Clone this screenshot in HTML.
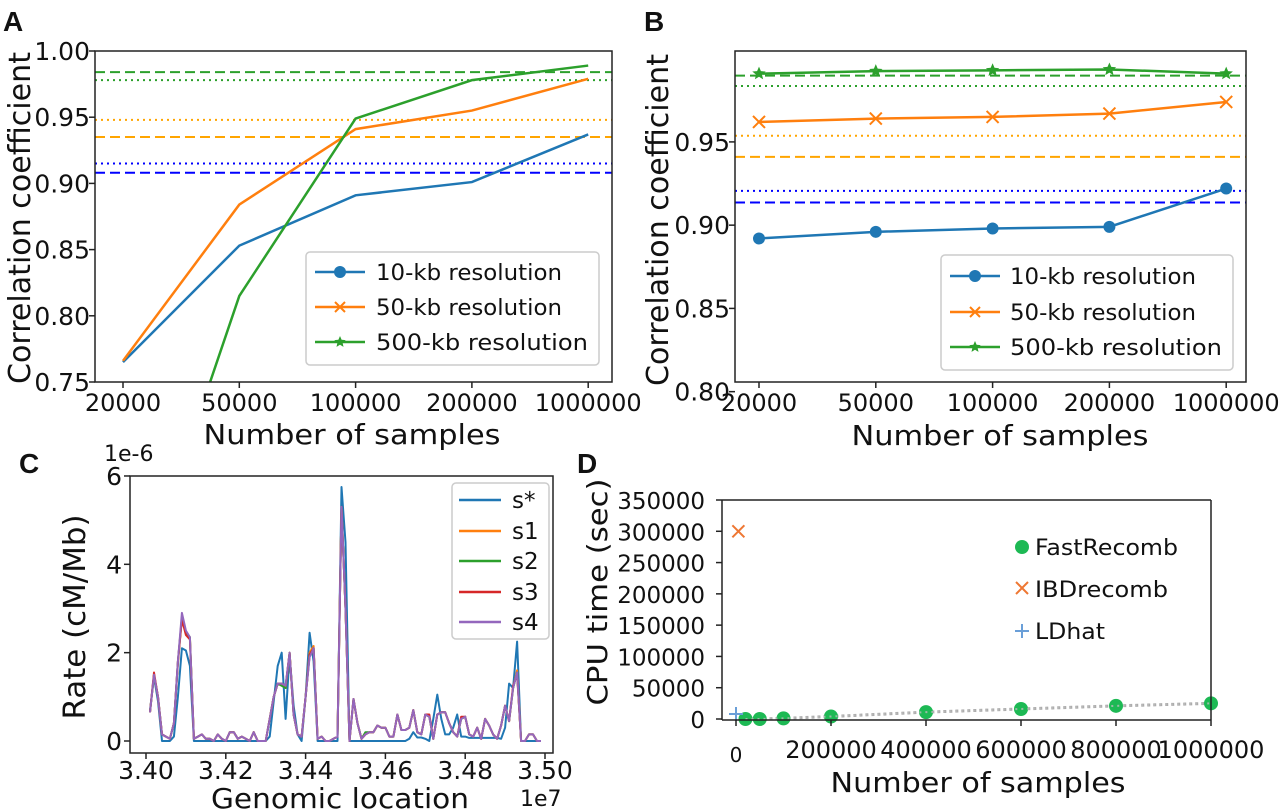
<!DOCTYPE html>
<html><head><meta charset="utf-8">
<style>
html,body{margin:0;padding:0;background:#fff;}
svg{display:block;font-family:"DejaVu Sans","Liberation Sans",sans-serif;}
</style></head>
<body>
<svg id="fig" width="1280" height="811" viewBox="0 0 1280 811" xmlns="http://www.w3.org/2000/svg"></svg>
<script>
// ---- Panel A data ----
const A_cats = ['20000','50000','100000','200000','1000000'];
const A_blue = [0.765,0.853,0.891,0.901,0.937];
const A_orange = [0.766,0.884,0.941,0.955,0.979];
const A_green = [0.556,0.815,0.949,0.978,0.989];
const A_yticks = [0.75,0.80,0.85,0.90,0.95,1.00];
const A_hlines = [0.984,0.978,0.948,0.935,0.915,0.908];
// ---- Panel B data ----
const B_cats = ['20000','50000','100000','200000','1000000'];
const B_blue = [0.892,0.896,0.898,0.899,0.922];
const B_orange = [0.962,0.964,0.965,0.967,0.974];
const B_green = [0.991,0.9925,0.993,0.9935,0.991];
const B_yticks = [0.80,0.85,0.90,0.95];
const B_hlines = [0.9898,0.9836,0.9537,0.941,0.9206,0.9136];
// ---- Panel C data (x = 3.401e7 + i*1e4) ----
const C_start = 3.401, C_step = 0.001;
const C_sstar = [0.7,1.45,0.9,0,0,0,0.1,1.0,2.1,2.05,1.7,0,0,0,0,0,0,0,0,0,0,0,0,0,0,0,0,0,0,0,0.1,0.9,1.7,2.0,0.5,1.95,0.8,0.15,0,1.0,2.45,1.8,0,0,0,0,0,0,5.75,4.5,0,0,0,0,0,0,0,0,0,0,0,0,0,0,0,0.05,0.2,0.08,0.08,0.05,0,0.5,1.05,0.5,0.15,0.15,0.3,0.6,0.1,0.1,0.07,0.07,0.07,0.07,0.07,0.07,0.07,0.07,0.05,0.3,1.3,1.2,2.25,0,0,0,0,0,0];
const C_s1 = [0.65,1.5,1.0,0.15,0.1,0.05,0.4,1.75,2.8,2.45,2.35,0.05,0.1,0.15,0.05,0.05,0,0.15,0.05,0,0.2,0.2,0.05,0.1,0.05,0,0.2,0,0,0,0.5,1.0,1.3,1.3,1.2,2.0,0.6,0.15,0.1,1.0,2.0,2.15,0.05,0.1,0,0,0.05,0.1,5.3,3.0,0,0.95,0.4,0.05,0.15,0.2,0.2,0.35,0.3,0.3,0.1,0.1,0.6,0.25,0.25,0.3,0.7,0.2,0.15,0.6,0.55,0.05,0.6,0.65,0.65,0.4,0.2,0.1,0.5,0.55,0.15,0.1,0.3,0.05,0.5,0.35,0.15,0.05,0.35,0.8,0.45,1.2,1.6,0,0,0.15,0.15,0,0];
const C_s2 = [0.65,1.5,1.0,0.15,0.1,0.05,0.4,1.8,2.8,2.45,2.35,0.05,0.1,0.15,0.05,0.05,0,0.15,0.05,0,0.2,0.2,0.05,0.1,0.05,0,0.2,0,0,0,0.5,1.0,1.3,1.25,1.2,2.0,0.6,0.15,0.1,1.0,1.95,2.1,0.05,0.1,0,0,0.05,0.1,5.3,3.0,0,0.95,0.4,0.05,0.2,0.2,0.2,0.35,0.3,0.3,0.1,0.1,0.6,0.25,0.25,0.3,0.7,0.2,0.15,0.6,0.55,0.05,0.6,0.65,0.65,0.4,0.2,0.1,0.5,0.55,0.15,0.1,0.3,0.05,0.5,0.35,0.15,0.05,0.35,0.8,0.45,1.2,1.55,0,0,0.15,0.15,0,0];
const C_s3 = [0.65,1.55,1.0,0.15,0.1,0.05,0.4,1.8,2.75,2.4,2.3,0.05,0.1,0.15,0.05,0.05,0,0.15,0.05,0,0.2,0.2,0.05,0.1,0.05,0,0.2,0,0,0,0.5,1.0,1.3,1.3,1.25,2.0,0.6,0.15,0.1,1.0,1.95,2.1,0.05,0.1,0,0,0.05,0.1,5.3,3.0,0,0.95,0.4,0.05,0.15,0.2,0.2,0.35,0.3,0.3,0.1,0.1,0.6,0.25,0.25,0.3,0.7,0.2,0.15,0.6,0.6,0.05,0.6,0.65,0.65,0.4,0.2,0.1,0.55,0.55,0.15,0.1,0.3,0.05,0.5,0.35,0.15,0.05,0.35,0.8,0.45,1.25,1.5,0,0,0.15,0.15,0,0];
const C_s4 = [0.65,1.5,1.0,0.15,0.1,0.05,0.4,1.8,2.9,2.5,2.35,0.05,0.1,0.15,0.05,0.05,0,0.15,0.05,0,0.2,0.2,0.05,0.1,0.05,0,0.2,0,0,0,0.5,1.0,1.3,1.3,1.25,2.0,0.6,0.15,0.1,1.0,1.9,2.1,0.05,0.1,0,0,0.05,0.1,5.3,3.0,0,0.95,0.4,0.05,0.15,0.2,0.2,0.35,0.3,0.3,0.1,0.1,0.6,0.25,0.25,0.3,0.7,0.2,0.15,0.6,0.55,0.05,0.6,0.65,0.65,0.4,0.2,0.1,0.5,0.55,0.15,0.1,0.3,0.05,0.5,0.35,0.15,0.05,0.35,0.8,0.45,1.2,1.55,0,0,0.15,0.15,0,0];
const C_xticks = [3.40,3.42,3.44,3.46,3.48,3.50];
const C_yticks = [0,2,4,6];
// ---- Panel D data ----
const D_fast_x = [20000,50000,100000,200000,400000,600000,800000,1000000];
const D_fast_y = [0,0,1000,4000,11000,16000,21000,25000];
const D_ibd_x = [5000];
const D_ibd_y = [300000];
const D_ld_x = [0];
const D_ld_y = [8000];
const D_xticks = [0,200000,400000,600000,800000,1000000];
const D_yticks = [0,50000,100000,150000,200000,250000,300000,350000];

const NS='http://www.w3.org/2000/svg';
const svg=document.getElementById('fig');
function mk(tag,attrs,parent){const e=document.createElementNS(NS,tag);for(const k in attrs)e.setAttribute(k,attrs[k]);(parent||svg).appendChild(e);return e;}
function txt(s,attrs,parent){const e=mk('text',attrs,parent);e.textContent=s;return e;}
const BLUE='#1f77b4',ORANGE='#ff7f0e',GREEN='#2ca02c',PURPLE='#9467bd',RED='#d62728';
const HL=[{c:'#2ca02c',d:'10 5'},{c:'#2ca02c',d:'2 4'},{c:'#ffa500',d:'2 4'},{c:'#ffa500',d:'10 5'},{c:'#0000ff',d:'2 4'},{c:'#0000ff',d:'10 5'}];

function star(g,cx,cy,r,col){let p='';for(let i=0;i<10;i++){const a=-Math.PI/2+i*Math.PI/5;const rr=i%2?r*0.45:r;p+=(i?'L':'M')+(cx+rr*Math.cos(a)).toFixed(1)+' '+(cy+rr*Math.sin(a)).toFixed(1);}return mk('path',{d:p+'Z',fill:col},g);}
function xmark(g,cx,cy,r,col,w){return mk('path',{d:`M${cx-r} ${cy-r}L${cx+r} ${cy+r}M${cx-r} ${cy+r}L${cx+r} ${cy-r}`,stroke:col,'stroke-width':w||2,fill:'none'},g);}

function corrPanel(o){
  const g=mk('g',{});
  
  
  const L=o.L,R=o.R,T=o.T,B=o.B;
  const xp=i=>o.x0+i*o.dx;
  const yp=v=>B-(v-o.ymin)/(o.ymax-o.ymin)*(B-T);
  const clipId=o.name+'-clip';
  const cp=mk('clipPath',{id:clipId},g);mk('rect',{x:L,y:T,width:R-L,height:B-T},cp);
  o.hl.forEach((v,i)=>{const l=mk('line',{x1:L,x2:R,y1:yp(v),y2:yp(v),stroke:HL[i].c,'stroke-width':2,'stroke-dasharray':HL[i].d},g);
    
    });
  const series=[[o.blue,BLUE,'circle','series-10kb'],[o.orange,ORANGE,'x','series-50kb'],[o.green,GREEN,'star','series-500kb']];
  series.forEach(([vals,col,mkType,nm])=>{
    const sg=mk('g',{'clip-path':`url(#${clipId})`},g);
    
    
    mk('polyline',{points:vals.map((v,i)=>xp(i)+','+yp(v)).join(' '),fill:'none',stroke:col,'stroke-width':2.5},sg);
    if(o.markers){vals.forEach((v,i)=>{let m;
      if(mkType==='circle')m=mk('circle',{cx:xp(i),cy:yp(v),r:6,fill:col},sg);
      else if(mkType==='x')m=xmark(sg,xp(i),yp(v),6,col,2);
      else m=star(sg,xp(i),yp(v),7,col);
      
      });}
  });
  const fr=mk('rect',{x:L,y:T,width:R-L,height:B-T,fill:'none',stroke:'#222','stroke-width':1.5},g);
  
  
  o.cats.forEach((c,i)=>{mk('line',{x1:xp(i),x2:xp(i),y1:B,y2:B+6,stroke:'#222','stroke-width':1.5},g);
    const t=txt(c,{x:xp(i),y:o.xtY,'text-anchor':'middle','font-size':24,fill:'#111'},g);
    
    });
  o.yticks.forEach(v=>{mk('line',{x1:L-6,x2:L,y1:yp(v),y2:yp(v),stroke:'#222','stroke-width':1.5},g);
    const t=txt(v.toFixed(2),{x:L-5,y:yp(v)+9,'text-anchor':'end','font-size':25,fill:'#111'},g);
    
    });
  const xt=txt('Number of samples',{x:o.xtitleX,y:o.xtitleY,'text-anchor':'middle','font-size':28,fill:'#111',textLength:297,lengthAdjust:'spacingAndGlyphs'},g);
  
  
  const yt=txt('Correlation coefficient',{x:0,y:0,'text-anchor':'middle','font-size':30,fill:'#111',textLength:332,lengthAdjust:'spacingAndGlyphs',transform:`translate(${o.ytitleX},${o.ytitleY}) rotate(-90)`},g);
  
  
  const lg=mk('g',{},g);
  
  
  mk('rect',{x:o.lg.x,y:o.lg.y,width:o.lg.w,height:o.lg.h,rx:4,fill:'#fff','fill-opacity':0.85,stroke:'#ccc','stroke-width':1.5},lg);
  const labels=['10-kb resolution','50-kb resolution','500-kb resolution'];
  series.forEach(([v,col,mt],i)=>{const yy=o.lg.rows[i];
    const e=mk('g',{},lg);
    
    
    mk('line',{x1:o.lg.lx,x2:o.lg.lx+50,y1:yy,y2:yy,stroke:col,'stroke-width':2.5},e);
    const cx=o.lg.lx+25;
    if(mt==='circle')mk('circle',{cx:cx,cy:yy,r:6,fill:col},e);else if(mt==='x')xmark(e,cx,yy,5,col,2);else star(e,cx,yy,6,col);
    txt(labels[i],{x:o.lg.tx,y:yy+8,'font-size':22,fill:'#111',textLength:i==2?212:186,lengthAdjust:'spacingAndGlyphs'},e);});
}

corrPanel({name:'panel-a',L:95,R:612,T:51,B:382,x0:123,dx:116.3,ymin:0.75,ymax:1.0,cats:A_cats,blue:A_blue,orange:A_orange,green:A_green,
  hl:A_hlines,yticks:A_yticks,markers:false,xtY:411,xtitleX:352,xtitleY:444,ytitleX:30,ytitleY:218,
  lg:{x:306,y:252,w:293,h:113,rows:[272,307,342],lx:315,tx:376}});
corrPanel({name:'panel-b',L:735,R:1246,T:51,B:382,x0:759,dx:116.8,ymin:0.8058,ymax:1.0046,cats:B_cats,blue:B_blue,orange:B_orange,green:B_green,
  hl:B_hlines,yticks:B_yticks,markers:true,xtY:411,xtitleX:1000,xtitleY:445,ytitleX:668,ytitleY:220,
  lg:{x:941,y:255,w:292,h:115,rows:[276,312,347],lx:950,tx:1010}});

(function(){
  const g=mk('g',{});
  
  
  const L=130,R=553,T=476,B=753;
  const xp=v=>146+(v-3.40)/0.10*399;
  const yp=v=>741-v*44.17;
  const cp=mk('clipPath',{id:'c-clip'},g);mk('rect',{x:L,y:T,width:R-L,height:B-T},cp);
  const ser=[[C_sstar,BLUE,'series-s-star'],[C_s1,ORANGE,'series-s1'],[C_s2,GREEN,'series-s2'],[C_s3,RED,'series-s3'],[C_s4,PURPLE,'series-s4']];
  ser.forEach(([vals,col,nm])=>{const p=mk('polyline',{points:vals.map((v,i)=>xp(C_start+i*C_step).toFixed(1)+','+yp(v).toFixed(1)).join(' '),fill:'none',stroke:col,'stroke-width':2,'stroke-linejoin':'round','clip-path':'url(#c-clip)'},g);
    
    });
  const fr=mk('rect',{x:L,y:T,width:R-L,height:B-T,fill:'none',stroke:'#222','stroke-width':1.5},g);
  
  
  C_xticks.forEach(v=>{mk('line',{x1:xp(v),x2:xp(v),y1:B,y2:B+6,stroke:'#222','stroke-width':1.5},g);
    const t=txt(v.toFixed(2),{x:xp(v),y:779,'text-anchor':'middle','font-size':25,fill:'#111'},g);
    
    });
  C_yticks.forEach(v=>{mk('line',{x1:L-6,x2:L,y1:yp(v),y2:yp(v),stroke:'#222','stroke-width':1.5},g);
    const t=txt(String(v),{x:L-8,y:yp(v)+9,'text-anchor':'end','font-size':25,fill:'#111'},g);
    
    });
  const o1=txt('1e-6',{x:104,y:461,'font-size':22,fill:'#111'},g);
  
  
  const o2=txt('1e7',{x:520,y:806,'font-size':22,fill:'#111'},g);
  
  
  const xt=txt('Genomic location',{x:340,y:808,'text-anchor':'middle','font-size':28,fill:'#111',textLength:258,lengthAdjust:'spacingAndGlyphs'},g);
  
  
  const yt=txt('Rate (cM/Mb)',{x:0,y:0,'text-anchor':'middle','font-size':30,fill:'#111',textLength:205,lengthAdjust:'spacingAndGlyphs',transform:'translate(85,617) rotate(-90)'},g);
  
  
  const lg=mk('g',{},g);
  
  
  mk('rect',{x:452,y:483,width:97,height:156,rx:4,fill:'#fff','fill-opacity':0.85,stroke:'#ccc','stroke-width':1.5},lg);
  const names=['s*','s1','s2','s3','s4'];const rows=[500,531,561,592,622];
  ser.forEach(([v,col],i)=>{const e=mk('g',{},lg);
    
    
    mk('line',{x1:459,x2:501,y1:rows[i],y2:rows[i],stroke:col,'stroke-width':2.5},e);
    txt(names[i],{x:512,y:rows[i]+8,'font-size':23,fill:'#111'},e);});
})();

(function(){
  const g=mk('g',{});
  
  
  const L=722,R=1211,T=500,B=720;
  const xp=v=>736+v/1e6*475;
  const yp=v=>719-v/350000*219;
  const dl=mk('polyline',{points:D_fast_x.map((x,i)=>xp(x)+','+yp(D_fast_y[i])).join(' '),fill:'none',stroke:'#aaa','stroke-width':3,'stroke-dasharray':'3 3'},g);
  
  
  D_fast_x.forEach((x,i)=>{const c=mk('circle',{cx:xp(x),cy:yp(D_fast_y[i]),r:7,fill:'#1db954'},g);
    
    });
  mk('polyline',{points:D_fast_x.map((x,i)=>xp(x)+','+yp(D_fast_y[i])).join(' '),fill:'none',stroke:'#bbb','stroke-width':2,'stroke-dasharray':'2 4','stroke-opacity':0.8},g);
  D_ibd_x.forEach((x,i)=>{const m=xmark(g,xp(x),yp(D_ibd_y[i]),6,'#ee7733',2);
    
    });
  D_ld_x.forEach((x,i)=>{const cx=xp(x),cy=yp(D_ld_y[i]);const m=mk('path',{d:`M${cx-7} ${cy}H${cx+7}M${cx} ${cy-7}V${cy+7}`,stroke:'#6a9fd8','stroke-width':2},g);
    
    });
  mk('line',{x1:L,x2:R,y1:T,y2:T,stroke:'#222','stroke-width':1.5},g);
  mk('line',{x1:R,x2:R,y1:T,y2:B,stroke:'#222','stroke-width':1.5},g);
  mk('line',{x1:L,x2:L,y1:T,y2:B,stroke:'#222','stroke-width':1.5},g);
  mk('line',{x1:L,x2:R,y1:B,y2:B,stroke:'#222','stroke-width':1.5},g);
  D_xticks.forEach(v=>{mk('line',{x1:xp(v),x2:xp(v),y1:B,y2:B+6,stroke:'#222','stroke-width':1.5},g);
    const t=txt(String(v),{x:xp(v),y:v===0?762:758,'text-anchor':'middle','font-size':v===0?20:24,fill:'#111'},g);
    
    });
  D_yticks.forEach(v=>{mk('line',{x1:L-6,x2:L,y1:yp(v),y2:yp(v),stroke:'#222','stroke-width':1.5},g);
    const t=txt(String(v),{x:L-17,y:yp(v)+9,'text-anchor':'end','font-size':23,fill:'#111'},g);
    
    });
  const xt=txt('Number of samples',{x:978,y:792,'text-anchor':'middle','font-size':28,fill:'#111',textLength:295,lengthAdjust:'spacingAndGlyphs'},g);
  
  
  const yt=txt('CPU time (sec)',{x:0,y:0,'text-anchor':'middle','font-size':28,fill:'#111',textLength:227,lengthAdjust:'spacingAndGlyphs',transform:'translate(607,592) rotate(-90)'},g);
  
  
  const lg=mk('g',{},g);
  
  
  const e1=mk('g',{},lg);
  
  
  mk('circle',{cx:1022,cy:547,r:7,fill:'#1db954'},e1);
  txt('FastRecomb',{x:1035,y:555,'font-size':22,fill:'#111',textLength:143,lengthAdjust:'spacingAndGlyphs'},e1);
  const e2=mk('g',{},lg);
  
  
  xmark(e2,1022,588,6,'#ee7733',2);
  txt('IBDrecomb',{x:1035,y:597,'font-size':22,fill:'#111',textLength:133,lengthAdjust:'spacingAndGlyphs'},e2);
  const e3=mk('g',{},lg);
  
  
  mk('path',{d:'M1015 631H1029M1022 624V638',stroke:'#6a9fd8','stroke-width':2},e3);
  txt('LDhat',{x:1035,y:639,'font-size':22,fill:'#111',textLength:70,lengthAdjust:'spacingAndGlyphs'},e3);
})();

[['A',3,31],['B',644,31],['C',19,473],['D',577,473]].forEach(([s,x,y])=>{
  const t=txt(s,{x:x,y:y,'font-size':28,'font-weight':'bold','font-family':'Liberation Sans, sans-serif',fill:'#111'});
  
  
});
</script>
</body></html>
